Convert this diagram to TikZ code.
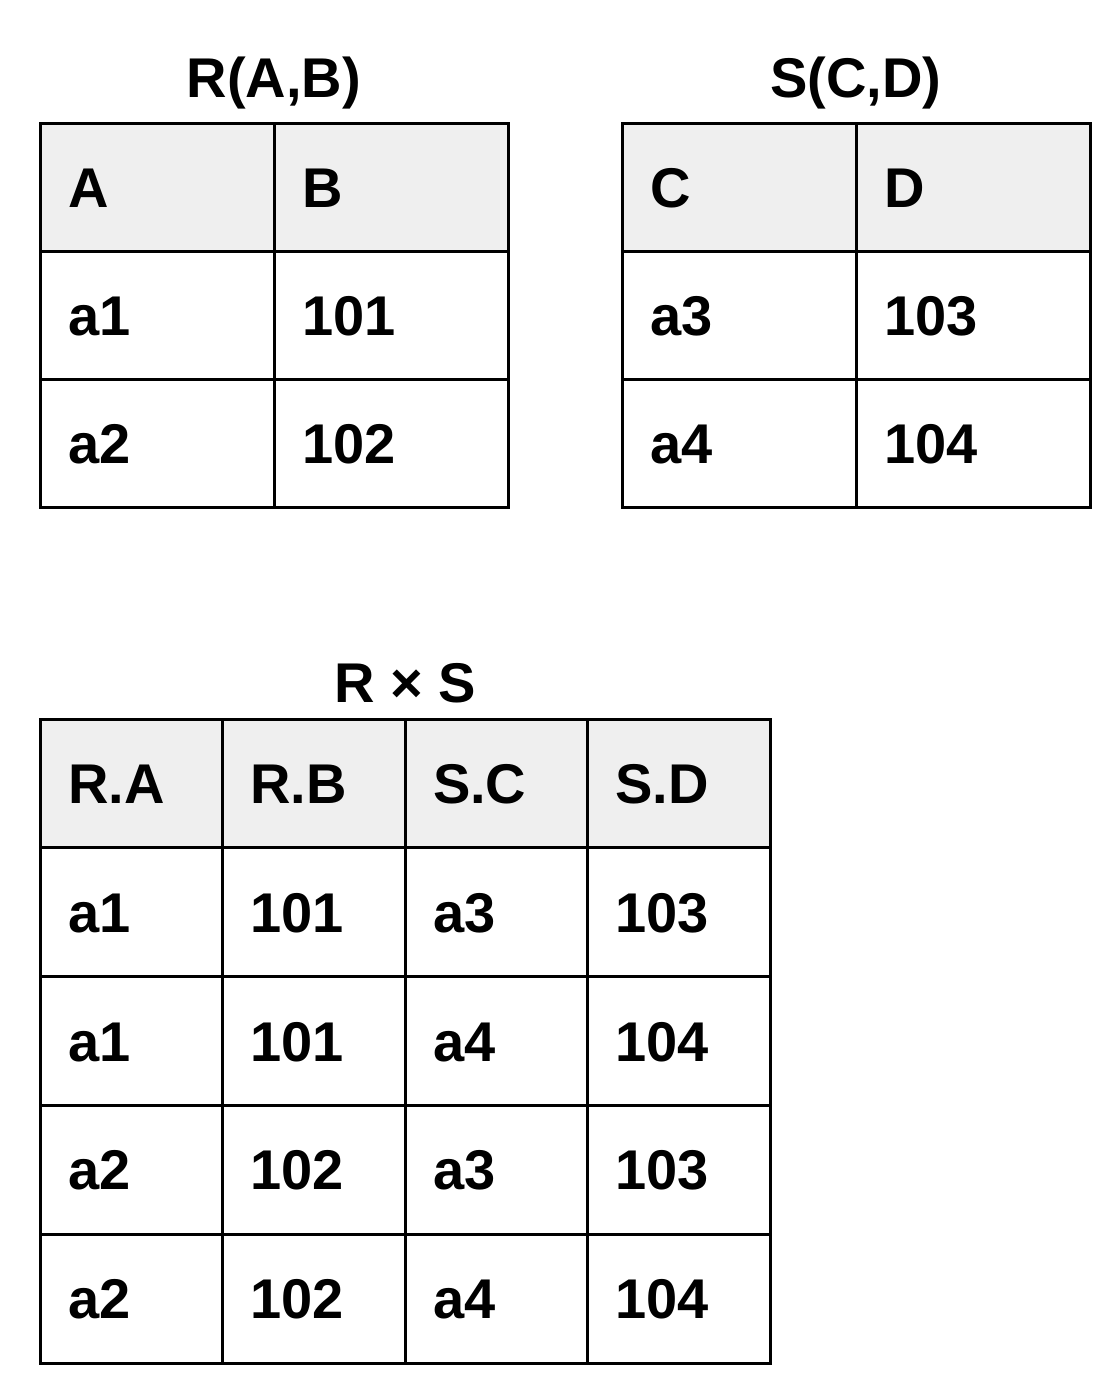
\documentclass[tikz,border=0pt]{standalone}
\usepackage{fontspec}
\setmainfont{Liberation Sans}
\begin{document}
\begin{tikzpicture}[x=1pt,y=-1pt,
  cell/.style={draw=black, line width=3pt, anchor=north west, outer sep=0pt, inner xsep=28pt, inner ysep=0pt,
    text height=40pt, text depth=0pt, align=left, font=\fontsize{56}{60}\selectfont\bfseries},
  hdr/.style={cell, fill=hdrgray},
  rs/.style={text width=178pt, minimum height=128.3pt},
  rxs/.style={text width=126.5pt, minimum height=128.8pt},
  title/.style={anchor=base, inner sep=0pt, font=\fontsize{56}{60}\selectfont\bfseries}]
\definecolor{hdrgray}{HTML}{EFEFEF}
\useasboundingbox[fill=white] (0,0) rectangle (1114,1376);
% Titles
\node[title] (tR) at (274,97) {R(A,B)};
\node[title] (tS) at (856,97) {S(C,D)};
\node[title] (tRS) at (405,702) {R × S};
% Table R
\node[hdr,rs] (rA) at (40,123) {A};
\node[hdr,rs] (rB) at (274,123) {B};
\node[cell,rs] (r11) at (40,251.3) {a1};
\node[cell,rs] (r12) at (274,251.3) {101};
\node[cell,rs] (r21) at (40,379.6) {a2};
\node[cell,rs] (r22) at (274,379.6) {102};
% Table S
\node[hdr,rs] (sC) at (622,123) {C};
\node[hdr,rs] (sD) at (856,123) {D};
\node[cell,rs] (s11) at (622,251.3) {a3};
\node[cell,rs] (s12) at (856,251.3) {103};
\node[cell,rs] (s21) at (622,379.6) {a4};
\node[cell,rs] (s22) at (856,379.6) {104};
% Table R x S
\node[hdr,rxs] (pA) at (40,719) {R.A};
\node[hdr,rxs] (pB) at (222.5,719) {R.B};
\node[hdr,rxs] (pC) at (405,719) {S.C};
\node[hdr,rxs] (pD) at (587.5,719) {S.D};
\node[cell,rxs] (p11) at (40,847.8) {a1};
\node[cell,rxs] (p12) at (222.5,847.8) {101};
\node[cell,rxs] (p13) at (405,847.8) {a3};
\node[cell,rxs] (p14) at (587.5,847.8) {103};
\node[cell,rxs] (p21) at (40,976.6) {a1};
\node[cell,rxs] (p22) at (222.5,976.6) {101};
\node[cell,rxs] (p23) at (405,976.6) {a4};
\node[cell,rxs] (p24) at (587.5,976.6) {104};
\node[cell,rxs] (p31) at (40,1105.4) {a2};
\node[cell,rxs] (p32) at (222.5,1105.4) {102};
\node[cell,rxs] (p33) at (405,1105.4) {a3};
\node[cell,rxs] (p34) at (587.5,1105.4) {103};
\node[cell,rxs] (p41) at (40,1234.2) {a2};
\node[cell,rxs] (p42) at (222.5,1234.2) {102};
\node[cell,rxs] (p43) at (405,1234.2) {a4};
\node[cell,rxs] (p44) at (587.5,1234.2) {104};
\end{tikzpicture}
\end{document}
